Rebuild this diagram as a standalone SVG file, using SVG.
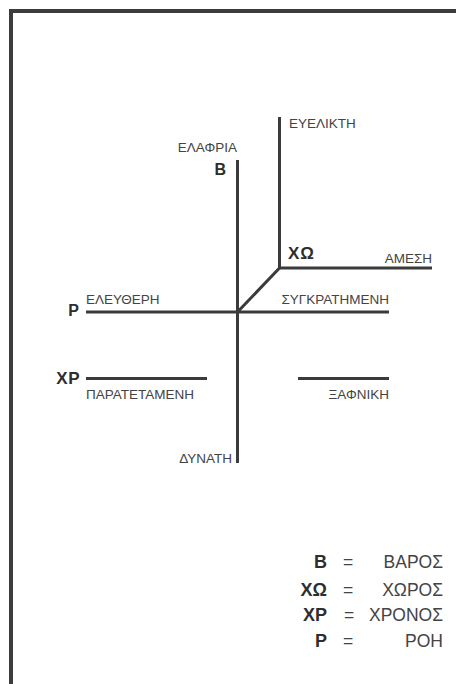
<svg xmlns="http://www.w3.org/2000/svg" width="456" height="684" viewBox="0 0 456 684">
<style>
.ln{stroke:#3b3b3b;stroke-width:3;fill:none}
.lb{font-family:"Liberation Sans",Arial,sans-serif;font-size:13.5px;fill:#444}
.bd{font-family:"Liberation Sans",Arial,sans-serif;font-weight:bold;fill:#2e2e2e}
.lg{font-family:"Liberation Sans",Arial,sans-serif;font-size:17.5px;fill:#444}
</style>
<rect width="456" height="684" fill="#fff"/>
<rect id="frame" x="11" y="11" width="470" height="700" fill="none" stroke="#3c3c3c" stroke-width="4"/>
<g id="connectors">
<line class="ln" x1="237.5" y1="160" x2="237.5" y2="463"/>
<line class="ln" x1="86" y1="312" x2="389" y2="312"/>
<polyline class="ln" points="279.5,117 279.5,268 432,268"/>
<line class="ln" x1="237.5" y1="312" x2="279.5" y2="268"/>
<line class="ln" x1="86" y1="378.5" x2="207" y2="378.5"/>
<line class="ln" x1="298" y1="378.5" x2="389" y2="378.5"/>
</g>
<g id="B"><text class="bd" x="226" y="175" font-size="16" text-anchor="end">B</text><text class="lb" x="237" y="152" text-anchor="end">ΕΛΑΦΡΙΑ</text><text class="lb" x="232" y="463" text-anchor="end">ΔΥΝΑΤΗ</text></g>
<g id="XO"><text class="bd" x="288" y="259" font-size="17" letter-spacing="1">ΧΩ</text><text class="lb" x="289" y="128">ΕΥΕΛΙΚΤΗ</text><text class="lb" x="432" y="263" text-anchor="end">ΑΜΕΣΗ</text></g>
<g id="P"><text class="bd" x="79" y="316" font-size="16" text-anchor="end">P</text><text class="lb" x="86" y="304">ΕΛΕΥΘΕΡΗ</text><text class="lb" x="389" y="304" text-anchor="end">ΣΥΓΚΡΑΤΗΜΕΝΗ</text></g>
<g id="XP"><text class="bd" x="80" y="384" font-size="17" text-anchor="end" letter-spacing="0.5">XP</text><text class="lb" x="86" y="399">ΠΑΡΑΤΕΤΑΜΕΝΗ</text><text class="lb" x="389" y="399" text-anchor="end">ΞΑΦΝΙΚΗ</text></g>
<g id="legend">
<text class="bd" font-size="18" text-anchor="end" x="327" y="568">B</text>
<text class="bd" font-size="18" text-anchor="end" x="327" y="596">ΧΩ</text>
<text class="bd" font-size="18" text-anchor="end" x="327" y="621">XP</text>
<text class="bd" font-size="18" text-anchor="end" x="327" y="647">P</text>
<text class="lg" text-anchor="middle" x="348" y="568">=</text>
<text class="lg" text-anchor="middle" x="348" y="596">=</text>
<text class="lg" text-anchor="middle" x="349" y="621">=</text>
<text class="lg" text-anchor="middle" x="348" y="647">=</text>
<text class="lg" text-anchor="end" x="443" y="568">ΒΑΡΟΣ</text>
<text class="lg" text-anchor="end" x="443" y="596">ΧΩΡΟΣ</text>
<text class="lg" text-anchor="end" x="443" y="621">ΧΡΟΝΟΣ</text>
<text class="lg" text-anchor="end" x="443" y="647">ΡΟΗ</text>
</g>
</svg>
